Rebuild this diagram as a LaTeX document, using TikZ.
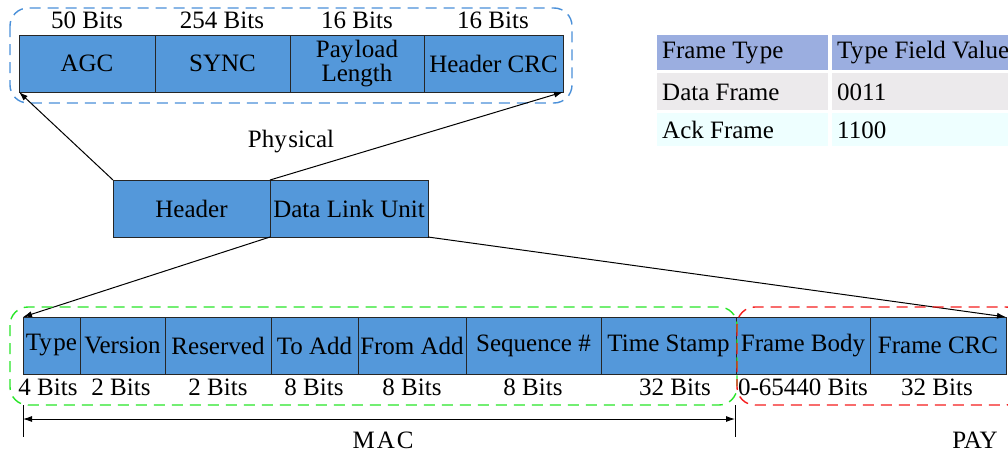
\documentclass[tikz,border=0pt]{standalone}
\usepackage{fontspec}
\setmainfont{Liberation Serif}
\newfontfamily\tms{Liberation Serif}
\usetikzlibrary{arrows.meta}
\definecolor{boxblue}{RGB}{84,152,218}
\definecolor{dashblue}{RGB}{74,144,217}
\definecolor{dashgreen}{RGB}{40,230,40}
\definecolor{dashred}{RGB}{245,30,30}
\definecolor{thead}{RGB}{155,174,224}
\definecolor{trow}{RGB}{236,234,236}
\definecolor{trowb}{RGB}{238,255,255}
\tikzset{
  fld/.style={draw=black!85, line width=1pt, fill=boxblue, inner sep=0pt, outer sep=0pt, anchor=north west, align=center, font=\tms\fontsize{25}{22}\selectfont},
  lbl/.style={inner sep=0pt, font=\tms\fontsize{25}{26}\selectfont},
  grp/.style={dashed, dash pattern=on 11pt off 7pt, line width=1.4pt, rounded corners=18pt},
  conn/.style={line width=1pt, -{Latex[length=9pt,width=6pt]}},
  cell/.style={inner sep=0pt, outer sep=0pt, anchor=north west},
  ctext/.style={inner sep=0pt, anchor=west, font=\tms\fontsize{25}{26}\selectfont}
}
\begin{document}
\begin{tikzpicture}[x=1pt,y=-1pt]
\clip (0,0) rectangle (1008,455);
\useasboundingbox (0,0) rectangle (1008,455);
\fill[white] (0,0) rectangle (1008,455);

% top physical fields
\node[fld, minimum width=136pt, minimum height=57pt] (agc) at (19,35) {AGC};
\node[fld, minimum width=135pt, minimum height=57pt] (sync) at (155,35) {SYNC};
\node[fld, minimum width=134pt, minimum height=57pt] (plen) at (290,35) {Pay\kern1.5pt load\\Length};
\node[fld, minimum width=139pt, minimum height=57pt] (hcrc) at (424,35) {Header CRC};
\node[lbl] (t1) at (87,20) {50 Bits};
\node[lbl] (t2) at (222,20) {254 Bits};
\node[lbl] (t3) at (357,20) {16 Bits};
\node[lbl] (t4) at (493,20) {16 Bits};
\draw[grp, draw=dashblue] (10,8) rectangle (572,103);

\node[lbl] (phys) at (291,142) {Phy\kern1.5pt sical};

% middle
\node[fld, minimum width=157pt, minimum height=57pt] (hdr) at (113,180) {Header};
\node[fld, minimum width=158pt, minimum height=57pt] (dlu) at (270,180) {Data Link Unit};

\draw[conn] (hdr.north west) -- (agc.south west);
\draw[conn] (hdr.north east) -- (hcrc.south east);

% bottom fields
\node[fld, minimum width=57pt, minimum height=57pt] (type) at (23,317) {Ty\kern1.5pt pe};
\node[fld, minimum width=85pt, minimum height=57pt] (ver) at (80,317) {Version};
\node[fld, minimum width=106pt, minimum height=57pt] (res) at (165,317) {Reserved};
\node[fld, minimum width=87pt, minimum height=57pt] (toa) at (271,317) {To Add};
\node[fld, minimum width=108pt, minimum height=57pt] (froma) at (358,317) {From Add};
\node[fld, minimum width=135pt, minimum height=57pt] (seq) at (466,317) {Sequence \#};
\node[fld, minimum width=135pt, minimum height=57pt] (ts) at (601,317) {Time Stamp};
\node[fld, minimum width=134pt, minimum height=57pt] (fbody) at (736,317) {Frame Body};
\node[fld, minimum width=136pt, minimum height=57pt] (fcrc) at (870,317) {Frame CRC};

\draw[conn] (dlu.south west) -- (type.north west);
\draw[conn] (dlu.south east) -- (fcrc.north east);

\node[lbl] (b1) at (48,387) {4 Bits};
\node[lbl] (b2) at (121,387) {2 Bits};
\node[lbl] (b3) at (218,387) {2 Bits};
\node[lbl] (b4) at (314,387) {8 Bits};
\node[lbl] (b5) at (412,387) {8 Bits};
\node[lbl] (b6) at (533,387) {8 Bits};
\node[lbl] (b7) at (675,387) {32 Bits};
\node[lbl] (b8) at (803,387) {0-65440 Bits};
\node[lbl] (b9) at (937,387) {32 Bits};

\draw[grp, draw=dashgreen] (10,307) rectangle (737,405);
\draw[grp, draw=dashred] (737,307) rectangle (1024,405);

% MAC dimension
\coordinate (m1) at (23,419);
\coordinate (m2) at (735,419);
\draw[line width=0.9pt] (23,405) -- (23,437);
\draw[line width=0.9pt] (735,405) -- (735,437);
\draw[line width=0.9pt, {Latex[length=9pt,width=6pt]}-{Latex[length=9pt,width=6pt]}] (m1) -- (m2);
\node[lbl] (mac) at (383,440) {M\kern2pt A\kern2pt C};
\node[lbl] (pay) at (975,440) {PAY};

% table
\node[cell, fill=thead, minimum width=171pt, minimum height=35pt] (c11) at (657,35) {};
\node[cell, fill=thead, minimum width=176pt, minimum height=35pt] (c12) at (832,35) {};
\node[cell, fill=trow, minimum width=171pt, minimum height=37pt] (c21) at (657,73) {};
\node[cell, fill=trow, minimum width=176pt, minimum height=37pt] (c22) at (832,73) {};
\node[cell, fill=trowb, minimum width=171pt, minimum height=33pt] (c31) at (657,113) {};
\node[cell, fill=trowb, minimum width=176pt, minimum height=33pt] (c32) at (832,113) {};
\node[ctext] (x11) at (662,53) {Frame Ty\kern1.5pt pe};
\node[ctext] (x12) at (837,53) {Ty\kern1.5pt pe Field Value};
\node[ctext] (x21) at (662,92) {Data Frame};
\node[ctext] (x22) at (837,92) {0011};
\node[ctext] (x31) at (662,130) {Ack Frame};
\node[ctext] (x32) at (837,130) {1100};
\end{tikzpicture}
\end{document}
